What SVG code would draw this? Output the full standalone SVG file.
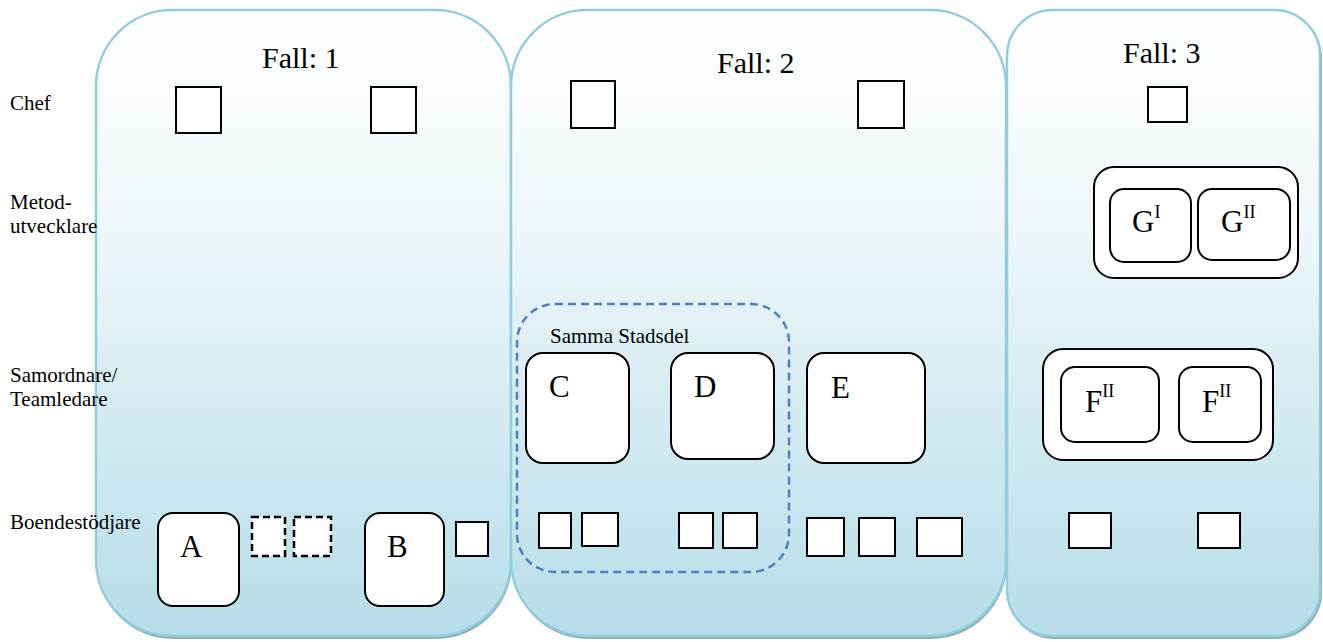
<svg xmlns="http://www.w3.org/2000/svg" width="1323" height="642" viewBox="0 0 1323 642">
  <defs>
    <linearGradient id="panelFill" x1="0" y1="0" x2="0" y2="1">
      <stop offset="0" stop-color="#ffffff"/>
      <stop offset="0.35" stop-color="#eef7fa"/>
      <stop offset="1" stop-color="#b6dde8"/>
    </linearGradient>
    <style>
      .panel { fill: url(#panelFill); stroke: #92cddc; stroke-width: 2.5; }
      .shadow { fill: #8fb0ba; }
      .box { fill: #ffffff; stroke: #000000; stroke-width: 2; }
      .dashbox { fill: #ffffff; stroke: #000000; stroke-width: 2.5; stroke-dasharray: 7 4; }
      .district { fill: none; stroke: #4f81bd; stroke-width: 2.5; stroke-dasharray: 8 5; }
      .t { font-family: "Liberation Serif", "Times New Roman", serif; fill: #000000; }
      .title { font-size: 30px; }
      .lbl { font-size: 21px; }
      .big { font-size: 31px; }
      .sup { font-size: 18px; }
    </style>
  </defs>

  <rect width="1323" height="642" fill="#ffffff"/>

  <!-- Case panels -->
  <g id="panel-fall1">
    <rect class="shadow" x="97" y="12" width="415" height="627" rx="76"/>
    <rect class="panel" x="96" y="10" width="415" height="626" rx="76"/>
    <text class="t title" x="262" y="68">Fall: 1</text>
  </g>
  <g id="panel-fall2">
    <rect class="shadow" x="512" y="12" width="495" height="627" rx="76"/>
    <rect class="panel" x="511" y="10" width="495" height="626" rx="76"/>
    <text class="t title" x="717" y="73">Fall: 2</text>
  </g>
  <g id="panel-fall3">
    <rect class="shadow" x="1008" y="12" width="314" height="627" rx="46"/>
    <rect class="panel" x="1007" y="10" width="313" height="626" rx="46"/>
    <text class="t title" x="1123" y="63">Fall: 3</text>
  </g>

  <!-- Role labels -->
  <g id="roles">
    <text class="t lbl" x="10" y="110">Chef</text>
    <text class="t lbl" x="10" y="209">Metod-</text>
    <text class="t lbl" x="10" y="233">utvecklare</text>
    <text class="t lbl" x="10" y="382">Samordnare/</text>
    <text class="t lbl" x="10" y="406">Teamledare</text>
    <text class="t lbl" x="10" y="529">Boendestödjare</text>
  </g>

  <!-- Fall 1 -->
  <g id="f1-chef1"><rect class="box" x="176" y="87" width="45" height="46"/></g>
  <g id="f1-chef2"><rect class="box" x="371" y="87" width="45" height="46"/></g>
  <g id="node-A">
    <rect class="box" x="158" y="513" width="81" height="93" rx="15"/>
    <text class="t big" x="180" y="557">A</text>
  </g>
  <g id="f1-vacant1"><rect class="dashbox" x="252" y="517" width="33" height="39"/></g>
  <g id="f1-vacant2"><rect class="dashbox" x="294" y="517" width="37" height="39"/></g>
  <g id="node-B">
    <rect class="box" x="365" y="513" width="79" height="93" rx="15"/>
    <text class="t big" x="387" y="557">B</text>
  </g>
  <g id="f1-staff"><rect class="box" x="456" y="522" width="32" height="34"/></g>

  <!-- Fall 2 -->
  <g id="f2-chef1"><rect class="box" x="571" y="81" width="44" height="47"/></g>
  <g id="f2-chef2"><rect class="box" x="858" y="81" width="46" height="47"/></g>
  <g id="district">
    <rect class="district" x="517" y="304" width="272" height="268" rx="38"/>
    <text class="t lbl" x="550" y="343">Samma Stadsdel</text>
  </g>
  <g id="node-C">
    <rect class="box" x="526" y="353" width="103" height="110" rx="17"/>
    <text class="t big" x="549" y="397">C</text>
  </g>
  <g id="node-D">
    <rect class="box" x="671" y="353" width="103" height="106" rx="17"/>
    <text class="t big" x="694" y="397">D</text>
  </g>
  <g id="node-E">
    <rect class="box" x="807" y="353" width="118" height="110" rx="17"/>
    <text class="t big" x="831" y="398">E</text>
  </g>
  <g id="f2-staff-c1"><rect class="box" x="539" y="513" width="32" height="35"/></g>
  <g id="f2-staff-c2"><rect class="box" x="582" y="513" width="36" height="33"/></g>
  <g id="f2-staff-d1"><rect class="box" x="679" y="513" width="34" height="35"/></g>
  <g id="f2-staff-d2"><rect class="box" x="723" y="513" width="34" height="35"/></g>
  <g id="f2-staff-e1"><rect class="box" x="807" y="518" width="37" height="38"/></g>
  <g id="f2-staff-e2"><rect class="box" x="859" y="518" width="36" height="38"/></g>
  <g id="f2-staff-e3"><rect class="box" x="917" y="518" width="45" height="38"/></g>

  <!-- Fall 3 -->
  <g id="f3-chef"><rect class="box" x="1148" y="87" width="39" height="35"/></g>
  <g id="group-G">
    <rect class="box" x="1094" y="167" width="204" height="111" rx="20"/>
  </g>
  <g id="node-G1">
    <rect class="box" x="1110" y="189" width="81" height="73" rx="14"/>
    <text class="t big" x="1132" y="232">G<tspan class="sup" dy="-14">I</tspan></text>
  </g>
  <g id="node-G2">
    <rect class="box" x="1198" y="189" width="92" height="71" rx="14"/>
    <text class="t big" x="1221" y="232">G<tspan class="sup" dy="-14">II</tspan></text>
  </g>
  <g id="group-F">
    <rect class="box" x="1043" y="349" width="230" height="111" rx="20"/>
  </g>
  <g id="node-F1">
    <rect class="box" x="1061" y="367" width="98" height="75" rx="14"/>
    <text class="t big" x="1085" y="412">F<tspan class="sup" dy="-15">II</tspan></text>
  </g>
  <g id="node-F2">
    <rect class="box" x="1179" y="367" width="82" height="75" rx="14"/>
    <text class="t big" x="1202" y="412">F<tspan class="sup" dy="-15">II</tspan></text>
  </g>
  <g id="f3-staff1"><rect class="box" x="1069" y="513" width="42" height="35"/></g>
  <g id="f3-staff2"><rect class="box" x="1198" y="513" width="42" height="35"/></g>

  <!-- No connectors are drawn in this chart -->
  <g id="connectors"/>
</svg>
